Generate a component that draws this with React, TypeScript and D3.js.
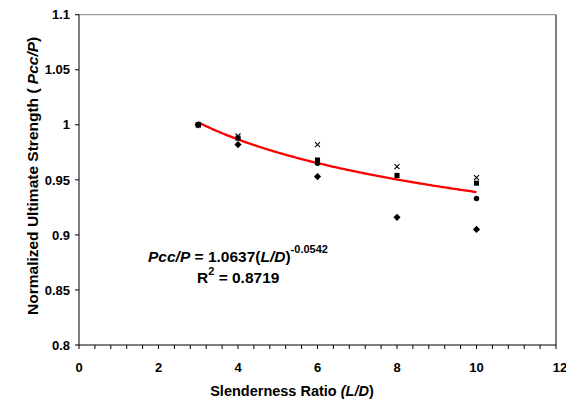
import React from "react";
import * as d3 from "d3";

const xCategories = [3, 4, 6, 8, 10];
const squareSeries = [1.0, 0.988, 0.968, 0.954, 0.947];
const diamondSeries = [1.0, 0.982, 0.953, 0.916, 0.905];
const crossSeries = [1.0, 0.99, 0.982, 0.962, 0.952];
const circleX = [3, 6, 10];
const circleSeries = [1.0, 0.965, 0.933];
const fitCoefA = 1.0637;
const fitCoefB = -0.0542;
const xTickLabels = [0, 2, 4, 6, 8, 10, 12];
const yTickLabels = [0.8, 0.85, 0.9, 0.95, 1, 1.05, 1.1];

const W = 566;
const H = 405;
const left = 79;
const right = 556;
const top = 14.7;
const bottom = 345;
const FONT = "'Liberation Sans', Arial, sans-serif";

export default function App() {
  const x = d3.scaleLinear().domain([0, 12]).range([left, right]);
  const y = d3.scaleLinear().domain([0.8, 1.1]).range([bottom, top]);
  const minorX = d3.range(0, 12.0001, 0.4);

  const fitPts = d3.range(3, 10.0001, 0.05).map((v) => [v, fitCoefA * Math.pow(v, fitCoefB)] as [number, number]);
  const line = d3
    .line<[number, number]>()
    .x((d) => x(d[0]))
    .y((d) => y(d[1]))
    .curve(d3.curveLinear);

  const sym = (type: d3.SymbolType, size: number) => d3.symbol().type(type).size(size)() as string;
  const squarePath = sym(d3.symbolSquare, 26);
  const diamondPath = "M0,-3.6L3.6,0L0,3.6L-3.6,0Z";
  const circlePath = sym(d3.symbolCircle, 24);

  return (
    <svg
      width={W}
      height={H}
      style={{ position: "absolute", left: 0, top: 0, background: "#fff" }}
      fontFamily={FONT}
      fontWeight="bold"
    >
      <rect x={0} y={0} width={W} height={H} fill="#fff" />
      <line x1={left} x2={right} y1={top} y2={top} stroke="#808080" strokeWidth={1} />
      <line x1={right} x2={right} y1={top} y2={bottom} stroke="#000" strokeWidth={1} />
      <line x1={left} x2={right} y1={bottom} y2={bottom} stroke="#000" strokeWidth={1} />
      <line x1={left} x2={left} y1={top} y2={bottom} stroke="#000" strokeWidth={1} />
      {minorX.map((v, i) => (
        <line key={"xt" + i} x1={x(v)} x2={x(v)} y1={bottom} y2={bottom + 4} stroke="#000" />
      ))}
      {yTickLabels.map((v, i) => (
        <g key={"yt" + i}>
          <line x1={left - 4} x2={left} y1={y(v)} y2={y(v)} stroke="#000" />
          <text x={left - 9} y={y(v)} dy="0.36em" textAnchor="end" fontSize={13}>
            {String(v)}
          </text>
        </g>
      ))}
      {xTickLabels.map((v, i) => (
        <text key={"xl" + i} x={x(v) + (v === 12 ? 4 : 0)} y={372} textAnchor="middle" fontSize={13}>
          {String(v)}
        </text>
      ))}
      <text x={292} y={396} textAnchor="middle" fontSize={14.5}>
        Slenderness Ratio <tspan fontStyle="italic">(L/D</tspan>)
      </text>
      <text
        transform={`translate(38,${(top + bottom) / 2 - 4}) rotate(-90)`}
        textAnchor="middle"
        fontSize={15.5}
      >
        Normalized Ultimate Strength ( <tspan fontStyle="italic">Pcc/P</tspan>)
      </text>

      <path d={line(fitPts) as string} fill="none" stroke="#ff0000" strokeWidth={2.3} />

      {xCategories.map((c, i) => (
        <path key={"d" + i} d={diamondPath} transform={`translate(${x(c)},${y(diamondSeries[i])})`} fill="#000" />
      ))}
      {xCategories.map((c, i) => (
        <path key={"s" + i} d={squarePath} transform={`translate(${x(c)},${y(squareSeries[i])})`} fill="#000" />
      ))}
      {circleX.map((c, i) => (
        <path key={"c" + i} d={circlePath} transform={`translate(${x(c)},${y(circleSeries[i])})`} fill="#000" />
      ))}
      {xCategories.map((c, i) => (
        <path
          key={"x" + i}
          d="M-2.5,-2.5L2.5,2.5M-2.5,2.5L2.5,-2.5"
          transform={`translate(${x(c)},${y(crossSeries[i])})`}
          stroke="#000"
          strokeWidth={1.1}
          fill="none"
        />
      ))}

      <text x={148} y={262} fontSize={15.5}>
        <tspan fontStyle="italic">Pcc/P</tspan> = 1.0637(<tspan fontStyle="italic">L/D</tspan>)
        <tspan fontSize={11} dy={-9}>-0.0542</tspan>
      </text>
      <text x={197} y={283} fontSize={15.5}>
        R<tspan fontSize={11} dy={-8}>2</tspan>
        <tspan dy={8}> = 0.8719</tspan>
      </text>
    </svg>
  );
}
